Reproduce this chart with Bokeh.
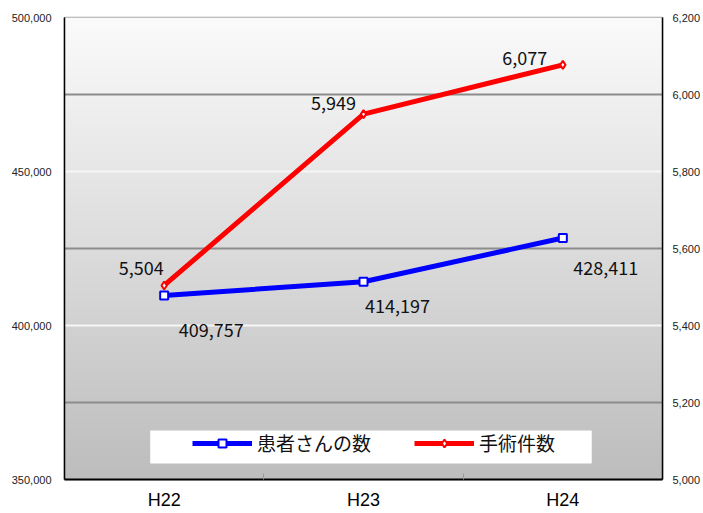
import numpy as np
from bokeh.plotting import figure
from bokeh.models import (Range1d, LinearAxis, FixedTicker, NumeralTickFormatter, Grid,
                          BoxAnnotation, Legend, LegendItem, ColumnDataSource)
from bokeh.core.properties import value
from bokeh.embed import file_html
from bokeh.resources import INLINE

# ---- data ----
categories = ["H22", "H23", "H24"]
patients = [409757, 414197, 428411]          # 患者さんの数 (left axis, 人)
surgeries = [5504, 5949, 6077]               # 手術件数 (right axis, 件)
left_ticks = [350000, 400000, 450000, 500000]
right_ticks = [5000, 5200, 5400, 5600, 5800, 6000, 6200]
series_names = ["患者さんの数", "手術件数"]

# ---- styling / placement ----
JP = "Noto Sans CJK JP"
patient_label_dx = [47, 34, 43]
patient_label_dy = [35, 24, 30]
surgery_label_dx = [-23, -30, -38]
surgery_label_dy = [-17, -11, -7]

xs = [i + 0.5 for i in range(len(categories))]
bounds = [i for i in range(1, len(categories))]

p = figure(width=703, height=513, output_backend="svg", toolbar_location=None,
           x_range=Range1d(0, len(categories)),
           y_range=Range1d(left_ticks[0], left_ticks[-1]),
           min_border_left=64, min_border_right=39, min_border_top=17, min_border_bottom=34,
           background_fill_color="white", border_fill_color="white")
p.extra_y_ranges = {"r": Range1d(right_ticks[0], right_ticks[-1])}
p.xgrid.visible = False
p.ygrid.visible = False
p.outline_line_color = "#a8a8a8"
p.outline_line_width = 1.5

# gradient background of the plot area
n = 256
top_c = np.array([251, 251, 251], dtype=float)
bot_c = np.array([189, 189, 189], dtype=float)
t = np.linspace(0.0, 1.0, n)[:, None]
cols = (bot_c + (top_c - bot_c) * t).astype(np.uint8)
img = np.empty((n, 1), dtype=np.uint32)
view = img.view(dtype=np.uint8).reshape((n, 1, 4))
view[:, 0, 0:3] = cols
view[:, 0, 3] = 255
p.image_rgba(image=[img], x=0, y=left_ticks[0], dw=len(categories),
             dh=left_ticks[-1] - left_ticks[0], level="image")

# grid lines
p.add_layout(Grid(dimension=1, ticker=FixedTicker(ticks=[375000, 425000, 475000]),
                  grid_line_color="#8c8c8c", grid_line_width=2))
p.add_layout(Grid(dimension=1, ticker=FixedTicker(ticks=[400000, 450000]),
                  grid_line_color="#f6f6f6", grid_line_width=2))

# left axis
ya = p.yaxis[0]
ya.ticker = FixedTicker(ticks=left_ticks)
ya.formatter = NumeralTickFormatter(format="0,0")
ya.major_tick_in = 0
ya.major_tick_out = 0
ya.minor_tick_in = 0
ya.minor_tick_out = 0
ya.axis_line_color = "black"
ya.axis_line_width = 1.5
ya.major_label_text_font = "Liberation Sans"
ya.major_label_text_font_size = "11px"
ya.major_label_text_color = "#222222"
ya.major_label_standoff = 13

# right axis
ra = LinearAxis(y_range_name="r", ticker=FixedTicker(ticks=right_ticks),
                formatter=NumeralTickFormatter(format="0,0"))
ra.major_tick_in = 0
ra.major_tick_out = 0
ra.minor_tick_in = 0
ra.minor_tick_out = 0
ra.axis_line_color = "black"
ra.axis_line_width = 1.5
ra.major_label_text_font = "Liberation Sans"
ra.major_label_text_font_size = "11px"
ra.major_label_text_color = "#222222"
ra.major_label_standoff = 10
p.add_layout(ra, "right")

# bottom axis
xa = p.xaxis[0]
xa.ticker = FixedTicker(ticks=xs, minor_ticks=bounds)
xa.major_label_overrides = {x: c for x, c in zip(xs, categories)}
xa.major_tick_in = 0
xa.major_tick_out = 0
xa.minor_tick_in = 6
xa.minor_tick_out = 0
xa.minor_tick_line_color = "#9a9a9a"
xa.axis_line_color = "black"
xa.axis_line_width = 2
xa.major_label_text_font = "Liberation Sans"
xa.major_label_text_font_size = "18px"
xa.major_label_text_color = "black"
xa.major_label_standoff = 10

# series
bl = p.line(xs, patients, line_color="#0000ff", line_width=5)
bs = p.scatter(xs, patients, marker="square", size=8, fill_color="white",
               line_color="#0000ff", line_width=2)
rl = p.line(xs, surgeries, y_range_name="r", line_color="#ff0000", line_width=5)
rs = p.scatter(xs, surgeries, y_range_name="r", marker="diamond", size=8,
               fill_color="white", line_color="#ff0000", line_width=2)

# data labels
src_b = ColumnDataSource(dict(x=xs, y=patients, t=[f"{v:,}" for v in patients],
                              dx=patient_label_dx, dy=patient_label_dy))
src_r = ColumnDataSource(dict(x=xs, y=surgeries, t=[f"{v:,}" for v in surgeries],
                              dx=surgery_label_dx, dy=surgery_label_dy))
p.text(x="x", y="y", text="t", x_offset="dx", y_offset="dy", source=src_b,
       text_font=value(JP), text_font_size="18px", text_align="center",
       text_baseline="middle", text_color="#111111")
p.text(x="x", y="y", text="t", x_offset="dx", y_offset="dy", source=src_r,
       y_range_name="r", text_font=value(JP), text_font_size="18px",
       text_align="center", text_baseline="middle", text_color="#111111")

# legend box + legend
p.add_layout(BoxAnnotation(left=0.43, right=2.645, bottom=355195, top=365909,
                           fill_color="white", fill_alpha=1.0, line_alpha=0))
legend = Legend(items=[LegendItem(label=series_names[0], renderers=[bl, bs]),
                       LegendItem(label=series_names[1], renderers=[rl, rs])],
                orientation="horizontal", location=(128, 23),
                glyph_width=60, glyph_height=20, label_standoff=5, spacing=43,
                padding=0, margin=0, background_fill_alpha=0, border_line_alpha=0,
                label_text_font=JP, label_text_font_size="19px",
                label_text_color="#111111")
p.add_layout(legend)

open("out.html", "w").write(file_html(p, INLINE))
